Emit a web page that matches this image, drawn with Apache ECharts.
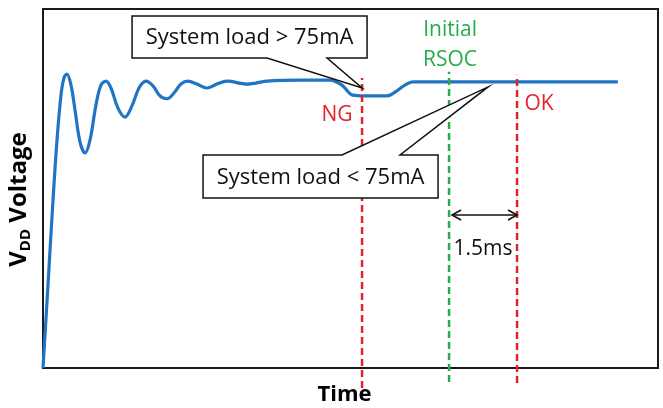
<!DOCTYPE html>
<html><head><meta charset="utf-8">
<script src="https://cdn.jsdelivr.net/npm/echarts@6/dist/echarts.min.js"></script>
<style>html,body{margin:0;padding:0;background:#fff}#c{width:663px;height:408px}</style>
</head><body><div id="c"></div>
<script>
// ---- data (time in ms, voltage in % of full scale) ----
const timeMs = [0,0.110,0.221,0.309,0.397,0.463,0.529,0.618,0.706,0.816,0.926,1.037,1.169,1.279,1.390,1.500,1.654,1.809,1.963,2.118,2.272,2.426,2.581,2.735,2.890,3.044,3.199,3.397,3.618,3.838,4.059,4.500,4.941,5.669,6.331,6.596,6.838,7.103,7.588,7.809,7.985,8.162,8.537,10.500,12.684];
const voltage = [0,23.1,46.8,63.5,76.0,80.8,81.9,78.8,71.9,63.0,59.9,63.5,73.3,78.8,79.9,78.0,72.4,69.9,73.0,78.0,79.9,78.6,75.8,75.0,76.6,79.1,79.9,79.1,78.0,79.1,79.9,79.1,79.9,80.2,80.2,78.8,76.0,75.8,75.8,77.2,78.8,79.7,79.7,79.7,79.7];
const markerNames = ['NG', 'Initial RSOC', 'OK'];
const markerTimes = [7.04, 8.96, 10.46];
const gapText = '1.5ms';
const calloutTexts = ['System load > 75mA', 'System load < 75mA'];
const calloutAnchors = [[7.04, 78.0], [9.82, 78.3]];
const xAxisTitle = 'Time';

// ---- layout / style ----
const FONT = '"Open Sans", sans-serif';
const RED = '#e3232b', GREEN = '#25ad4c', BLUE = '#1f74c4';
const markerColors = [RED, GREEN, RED];
const markerSpan = [[-5.6, 80.8], [-3.9, 82.5], [-4.2, 81.7]];
const calloutLayout = [
  {l: -230, t: -72, r: 5, b: -30, edge: 'bottom', p1: -95, p2: -35},
  {l: -285, t: 68, r: -50, b: 111, edge: 'top', p1: -146, p2: -88}
];
const txt = (text, x, y, color, size, extra) => Object.assign({type: 'text', style: {text, x, y, fill: color, font: (size || 21) + 'px ' + FONT, align: 'center', verticalAlign: 'middle'}}, extra || {});

const series = [];
series.push({
  type: 'line', data: timeMs.map((t, i) => [t, voltage[i]]), smooth: 0.35,
  showSymbol: false, lineStyle: {color: BLUE, width: 3.2}, z: 2, clip: false
});
markerTimes.forEach((t, i) => {
  series.push({
    type: 'line', data: [[t, markerSpan[i][0]], [t, markerSpan[i][1]]], showSymbol: false, clip: false,
    lineStyle: {color: markerColors[i], width: 2.5, type: [7, 4]}, z: 3, silent: true
  });
});
// marker labels
series.push({
  type: 'custom', clip: false, z: 5, silent: true,
  data: markerTimes.map((t, i) => [t, i]),
  renderItem: (params, api) => {
    const i = params.dataIndex, t = api.value(0);
    if (i === 0) { const p = api.coord([t, 70.5]); return txt('NG', p[0] - 25, p[1], RED); }
    if (i === 2) { const p = api.coord([t, 73.5]); return txt('OK', p[0] + 22, p[1], RED); }
    const a = api.coord([t, 94.2]), b = api.coord([t, 85.8]);
    const parts = markerNames[1].split(' ');
    return {type: 'group', children: [txt(parts[0], a[0] + 1, a[1], GREEN), txt(parts[1], b[0] + 1, b[1], GREEN)]};
  }
});
// 1.5 ms gap arrow
series.push({
  type: 'custom', clip: false, z: 5, silent: true,
  data: [[markerTimes[1], markerTimes[2]]],
  renderItem: (params, api) => {
    const a = api.coord([api.value(0), 42.6]), b = api.coord([api.value(1), 42.6]);
    const x1 = a[0] + 3, x2 = b[0], y = a[1];
    const st = {stroke: '#111', lineWidth: 1.6, fill: null};
    const m = api.coord([(api.value(0) + api.value(1)) / 2, 33.1]);
    return {type: 'group', children: [
      {type: 'line', shape: {x1, y1: y, x2, y2: y}, style: st},
      {type: 'polyline', shape: {points: [[x1 + 9, y - 5], [x1, y], [x1 + 9, y + 5]]}, style: st},
      {type: 'polyline', shape: {points: [[x2 - 9, y - 5], [x2, y], [x2 - 9, y + 5]]}, style: st},
      txt(gapText, m[0], m[1], '#111')
    ]};
  }
});
// callouts
series.push({
  type: 'custom', clip: false, z: 4, silent: true,
  data: calloutAnchors,
  renderItem: (params, api) => {
    const i = params.dataIndex, L = calloutLayout[i];
    const p = api.coord([api.value(0), api.value(1)]);
    const ax = p[0], ay = p[1];
    const x1 = ax + L.l, x2 = ax + L.r, y1 = ay + L.t, y2 = ay + L.b;
    let pts;
    if (L.edge === 'bottom') pts = [[x1, y1], [x2, y1], [x2, y2], [ax + L.p2, y2], [ax, ay], [ax + L.p1, y2], [x1, y2]];
    else pts = [[x1, y1], [ax + L.p1, y1], [ax, ay], [ax + L.p2, y1], [x2, y1], [x2, y2], [x1, y2]];
    return {type: 'group', children: [
      {type: 'polygon', shape: {points: pts}, style: {fill: '#fff', stroke: '#111', lineWidth: 1.5}},
      txt(calloutTexts[i], (x1 + x2) / 2, (y1 + y2) / 2 + 1, '#111', 22)
    ]};
  }
});

const chart = echarts.init(document.getElementById('c'), null, {renderer: 'canvas'});
chart.setOption({
  animation: false,
  backgroundColor: '#fff',
  grid: {left: 43, right: 5, top: 9, bottom: 40, show: true, borderColor: '#1a1a1a', borderWidth: 2,
         backgroundColor: 'transparent', containLabel: false, outerBoundsMode: 'none'},
  xAxis: {
    type: 'value', min: 0, max: 13.57,
    axisLine: {show: false}, axisTick: {show: false}, axisLabel: {show: false}, splitLine: {show: false},
    name: xAxisTitle, nameLocation: 'middle', nameGap: 16,
    nameTextStyle: {fontFamily: FONT, fontSize: 22, fontWeight: 'bold', color: '#000', padding: [0, 12, 0, 0]}
  },
  yAxis: {
    type: 'value', min: 0, max: 100,
    axisLine: {show: false}, axisTick: {show: false}, axisLabel: {show: false}, splitLine: {show: false},
    name: '{a|V}{s|DD}{a| Voltage}', nameLocation: 'middle', nameGap: 10, nameRotate: 90,
    nameTextStyle: {
      color: '#000', padding: [0, 22, 0, 0],
      rich: {
        a: {fontFamily: FONT, fontSize: 24, fontWeight: 'bold', color: '#000', lineHeight: 28},
        s: {fontFamily: FONT, fontSize: 15, fontWeight: 'bold', color: '#000', lineHeight: 17, verticalAlign: 'bottom'}
      }
    }
  },
  series
});
</script></body></html>
